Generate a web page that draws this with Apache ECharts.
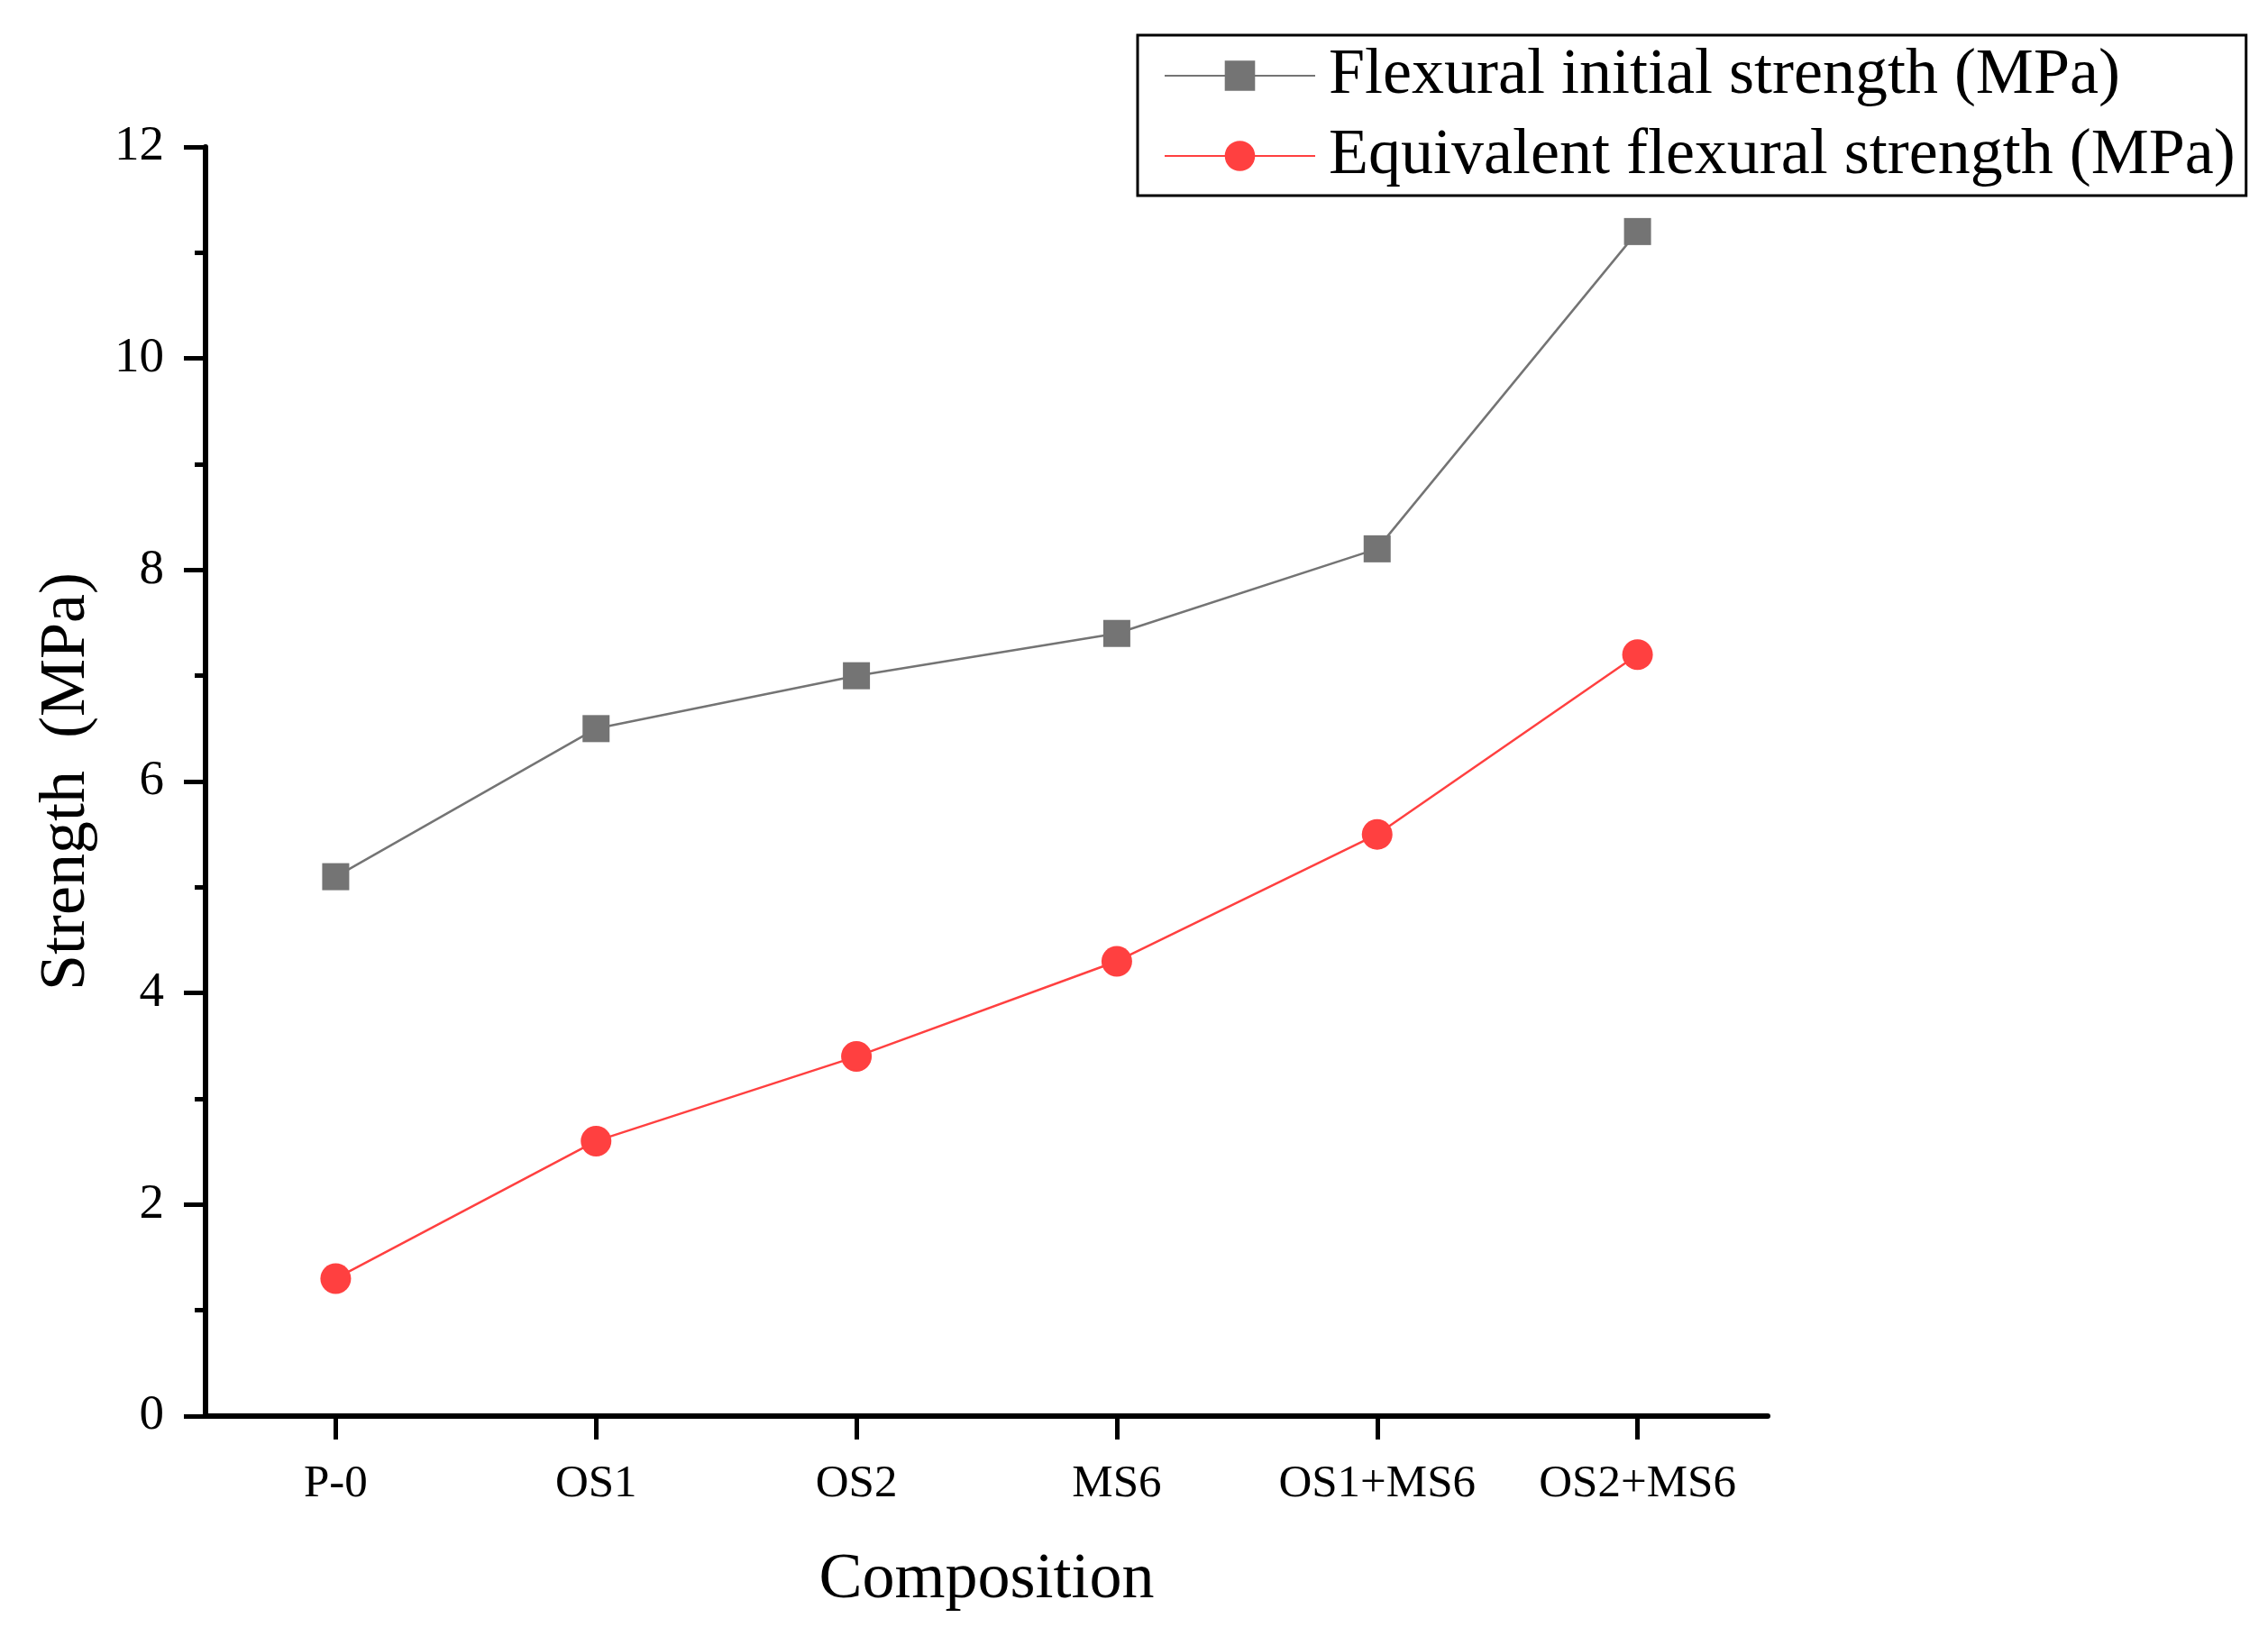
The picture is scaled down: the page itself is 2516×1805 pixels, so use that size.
<!DOCTYPE html>
<html>
<head>
<meta charset="utf-8">
<script src="https://cdn.jsdelivr.net/npm/echarts@6/dist/echarts.min.js"></script>
<style>
html,body{margin:0;padding:0;background:#fff;}
#chart{width:2516px;height:1805px;}
</style>
</head>
<body>
<div id="chart"></div>
<script>
const categories = ['P-0', 'OS1', 'OS2', 'MS6', 'OS1+MS6', 'OS2+MS6'];
const flexuralInitial = [5.1, 6.5, 7.0, 7.4, 8.2, 11.2];
const equivalentFlexural = [1.3, 2.6, 3.4, 4.3, 5.5, 7.2];
const seriesNames = ['Flexural initial strength (MPa)', 'Equivalent flexural strength (MPa)'];
const xAxisTitle = 'Composition';
const yAxisTitle = 'Strength  (MPa)';

const FONT = '"Liberation Serif", "Times New Roman", serif';
const chart = echarts.init(document.getElementById('chart'), null, {renderer: 'canvas'});
chart.setOption({
  backgroundColor: '#ffffff',
  animation: false,
  textStyle: {fontFamily: FONT, color: '#000'},
  grid: {left: 228, right: 555, top: 163, bottom: 234, containLabel: false},
  legend: {
    orient: 'vertical',
    left: 1262,
    top: 39,
    padding: [9, 12, 8, 29],
    itemGap: 17,
    itemWidth: 167,
    itemHeight: 42,
    borderColor: '#000',
    borderWidth: 3,
    backgroundColor: '#fff',
    textStyle: {fontFamily: FONT, fontSize: 72, color: '#000', padding: [0, 0, 0, 10]},
    data: seriesNames
  },
  xAxis: {
    type: 'category',
    data: categories,
    boundaryGap: true,
    name: xAxisTitle,
    nameLocation: 'middle',
    nameGap: 146,
    nameTextStyle: {fontFamily: FONT, fontSize: 72, color: '#000'},
    axisLine: {show: true, lineStyle: {color: '#000', width: 6}},
    axisTick: {show: true, alignWithLabel: true, length: 26, lineStyle: {color: '#000', width: 5}},
    axisLabel: {fontFamily: FONT, fontSize: 51, color: '#000', margin: 50},
    splitLine: {show: false}
  },
  yAxis: {
    type: 'value',
    min: 0,
    max: 12,
    interval: 2,
    name: yAxisTitle,
    nameLocation: 'middle',
    nameGap: 118,
    nameRotate: 90,
    nameTextStyle: {fontFamily: FONT, fontSize: 72, color: '#000'},
    axisLine: {show: true, lineStyle: {color: '#000', width: 6}},
    axisTick: {show: true, length: 24, lineStyle: {color: '#000', width: 5}},
    minorTick: {show: true, splitNumber: 2, length: 12, lineStyle: {color: '#000', width: 5}},
    axisLabel: {fontFamily: FONT, fontSize: 55, color: '#000', margin: 46},
    splitLine: {show: false},
    minorSplitLine: {show: false}
  },
  series: [
    {
      name: seriesNames[0],
      type: 'line',
      data: flexuralInitial,
      symbol: 'rect',
      symbolSize: 30,
      color: '#747474',
      lineStyle: {color: '#747474', width: 2.5},
      itemStyle: {color: '#747474'},
      z: 3
    },
    {
      name: seriesNames[1],
      type: 'line',
      data: equivalentFlexural,
      symbol: 'circle',
      symbolSize: 34,
      color: '#ff4040',
      lineStyle: {color: '#ff4040', width: 2.5},
      itemStyle: {color: '#ff4040'},
      z: 4
    }
  ]
});
</script>
</body>
</html>
